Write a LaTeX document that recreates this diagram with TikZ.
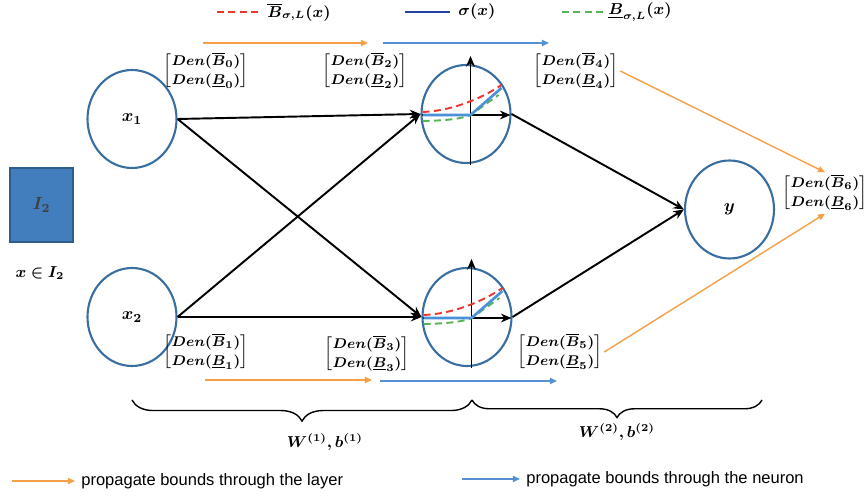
\documentclass[tikz,border=0pt]{standalone}
\usepackage{amsmath, amssymb}
\usepackage{bm}
\usepackage{xcolor}
\usepackage{fontspec}
\setmainfont{Liberation Sans}
\usetikzlibrary{arrows.meta, positioning, calc, decorations.pathreplacing,
                 shapes.geometric}
\definecolor{neuronblue}{RGB}{56, 110, 160}
\definecolor{boxblue}{RGB}{66, 126, 190}
\definecolor{boxedge}{RGB}{48, 92, 140}
\definecolor{layerorange}{RGB}{245, 160, 70}
\definecolor{neuronarrow}{RGB}{85, 145, 210}
\definecolor{upperred}{RGB}{235, 55, 45}
\definecolor{lowergreen}{RGB}{85, 180, 85}
\definecolor{sigmablue}{RGB}{35, 65, 160}
\definecolor{relublue}{RGB}{75, 145, 215}
\newcommand{\legfont}{\fontsize{9.4}{11}\selectfont}
\newcommand{\den}[1]{$\begin{bmatrix}\bm{Den(\overline{B}_{#1})}\\[1.5pt]
  \bm{Den(\underline{B}_{#1})}\end{bmatrix}$}
\newcommand{\actplot}{%
  \draw[->, line width=1.1pt] (0.09,-1.02) -- (0.09,1.16);
  \draw[->, line width=1.1pt] (-0.89,-0.02) -- (0.89,-0.02);
  \draw[upperdash] (-0.87,0.04) .. controls (-0.3,0.06) and (0.3,0.3)
    .. (0.71,0.58);
  \draw[lowerdash] (-0.87,-0.14) .. controls (-0.3,-0.13) and (-0.05,-0.08)
    .. (0.09,-0.02) -- (0.65,0.38);
  \draw[relu] (-0.87,-0.02) -- (0.09,-0.02) -- (0.71,0.52);
}

\begin{document}
\begin{tikzpicture}[>={Stealth[length=6pt, width=5pt]},
  neuron/.style={draw=neuronblue, line width=1.2pt, ellipse,
    minimum width=1.78cm, minimum height=1.96cm, inner sep=0pt,
    font=\normalsize},
  bounds/.style={font=\footnotesize, inner sep=1pt},
  link/.style={->, line width=1.1pt},
  layerarr/.style={-{Triangle[length=4pt, width=3.5pt]}, layerorange,
    line width=0.8pt},
  neuronarr/.style={-{Triangle[length=4pt, width=3.5pt]}, neuronarrow,
    line width=0.8pt},
  upperdash/.style={upperred, line width=1.1pt, dash pattern=on 4pt off 2.5pt},
  lowerdash/.style={lowergreen, line width=1.1pt, dash pattern=on 4pt off 2.5pt},
  relu/.style={relublue, line width=1.5pt},
  legtext/.style={anchor=west, inner sep=0pt}]
  \useasboundingbox (0,0) rectangle (17.32,9.94);
  % ── Input domain ──
  \node[draw=boxedge, fill=boxblue, line width=1pt, minimum width=1.26cm,
    minimum height=1.48cm, text=black!75, font=\normalsize] (box)
    at (0.83,5.84) {$\bm{I_2}$};
  \node[font=\small] (dom) at (0.80,4.48) {$\bm{x \in I_2}$};
  % ── Neurons ──
  \node[neuron] (x1) at (2.64,7.56) {$\bm{x_1}$};
  \node[neuron] (x2) at (2.64,3.60) {$\bm{x_2}$};
  \node[neuron] (h1) at (9.32,7.66) {};
  \node[neuron] (h2) at (9.34,3.60) {};
  \node[neuron] (out) at (14.59,5.75) {$\bm{y}$};
  % ── Weights ──
  \draw[link] (x1.east) -- (h1.west);
  \draw[link] (x1.east) -- (h2.west);
  \draw[link] (x2.east) -- (h1.west);
  \draw[link] (x2.east) -- (h2.west);
  \draw[link] (h1.east) -- (out.west);
  \draw[link] (h2.east) -- (out.west);
  % ── Activation in hidden neurons ──
  \begin{scope}[shift={(h1.center)}]
    \actplot
  \end{scope}
  \begin{scope}[shift={(h2.center)}]
    \actplot
  \end{scope}
  % ── Bounds ──
  \node[bounds] (b0) at (4.12,8.52) {\den{0}};
  \node[bounds] (b2) at (7.30,8.52) {\den{2}};
  \node[bounds] (b4) at (11.52,8.52) {\den{4}};
  \node[bounds] (b1) at (4.12,2.90) {\den{1}};
  \node[bounds] (b3) at (7.34,2.86) {\den{3}};
  \node[bounds] (b5) at (11.20,2.90) {\den{5}};
  \node[bounds] (b6) at (16.50,6.08) {\den{6}};
  % ── Propagation arrows ──
  \coordinate (top0) at (4.06,9.08);
  \coordinate (top1) at (7.36,9.08);
  \coordinate (top2) at (7.66,9.08);
  \coordinate (top3) at (10.98,9.08);
  \coordinate (bot0) at (4.10,2.34);
  \coordinate (bot1) at (7.44,2.34);
  \coordinate (bot2) at (7.60,2.32);
  \coordinate (bot3) at (11.14,2.32);
  \draw[layerarr] (top0) -- (top1);
  \draw[neuronarr] (top2) -- (top3);
  \draw[layerarr] (bot0) -- (bot1);
  \draw[neuronarr] (bot2) -- (bot3);
  \draw[layerarr] (b4.east) -- (b6.north);
  \draw[layerarr] (b5.east) -- (b6.south);
  % ── Curve legend ──
  \node[legtext, font=\small] (lgup) at (5.34,9.70)
    {$\bm{\overline{B}_{\sigma,L}(x)}$};
  \draw[upperdash] ([xshift=-0.18cm]lgup.west) -- ++(-0.9,0);
  \node[legtext, font=\small] (lgsig) at (9.16,9.70) {$\bm{\sigma(x)}$};
  \draw[sigmablue, line width=1.5pt] ([xshift=-0.16cm]lgsig.west) -- ++(-0.9,0);
  \node[legtext, font=\small] (lglow) at (12.16,9.70)
    {$\bm{\underline{B}_{\sigma,L}(x)}$};
  \draw[lowerdash] ([xshift=-0.1cm]lglow.west) -- ++(-0.82,0);
  % ── Layer braces ──
  \draw[decorate, decoration={brace, amplitude=12pt, mirror}, thick]
    (2.64,1.94) -- (9.44,1.94);
  \draw[decorate, decoration={brace, amplitude=10pt, mirror}, thick]
    (9.44,1.94) -- (15.24,1.94);
  \node[font=\small] (w1) at (6.50,1.10) {$\bm{W^{(1)}, b^{(1)}}$};
  \node[font=\small] (w2) at (12.34,1.30) {$\bm{W^{(2)}, b^{(2)}}$};
  % ── Arrow legend ──
  \node[legtext, font=\legfont] (lglayer) at (1.62,0.32)
    {propagate bounds through the layer};
  \draw[layerarr] ([xshift=-1.38cm]lglayer.west) -- ([xshift=-0.12cm]lglayer.west);
  \node[legtext, font=\legfont] (lgneuron) at (10.52,0.36)
    {propagate bounds through the neuron};
  \draw[neuronarr] ([xshift=-1.28cm]lgneuron.west)
    -- ([xshift=-0.12cm]lgneuron.west);
\end{tikzpicture}
\end{document}
